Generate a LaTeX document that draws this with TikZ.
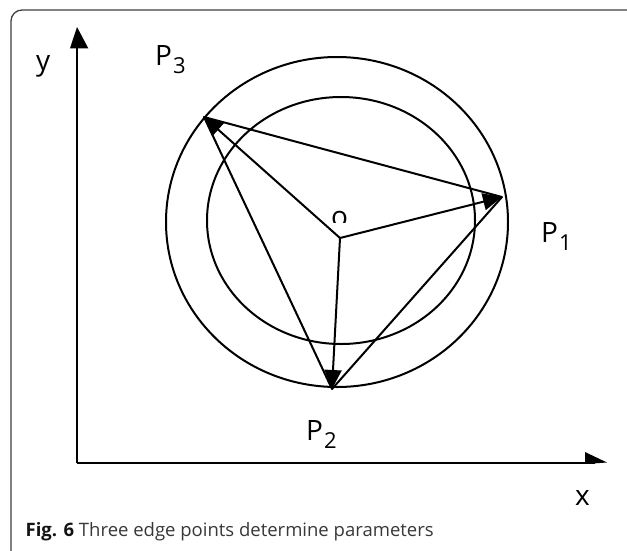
\documentclass[tikz,border=0pt]{standalone}
\usepackage{fontspec}
\setmainfont{Open Sans}
\usetikzlibrary{arrows.meta}
\newcommand\Psub[1]{P\kern1pt\raisebox{-8.5pt}{\fontsize{22}{22}\selectfont #1}}
\tikzset{
  borderframe/.style={draw=black!75, line width=1.3pt, rounded corners=11pt},
  axisline/.style={line width=2pt, draw=black},
  axishead/.style={fill=black, draw=none},
  circline/.style={line width=2pt, draw=black},
  radarrow/.style={line width=2pt, draw=black, -{Triangle[length=19pt,width=17pt]}},
  triedge/.style={line width=2pt, draw=black, line join=round},
  lab/.style={inner sep=0pt, anchor=base west, font=\fontsize{28}{28}\selectfont},
  captext/.style={inner sep=0pt, anchor=base west, font=\fontsize{18.5}{19}\selectfont, text=black!78}
}
\begin{document}
\begin{tikzpicture}[x=1pt,y=-1pt]
\useasboundingbox (0,0) rectangle (627,550);
\clip (0,0) rectangle (627,550);
\fill[white] (0,0) rectangle (627,550);
% frame
\draw[borderframe] (11,10) rectangle (660,585);
% axes
\coordinate (orig) at (77,463);
\coordinate (ytip) at (77,27);
\coordinate (xtip) at (607,462.5);
\draw[axisline] (orig) -- (77,40);
\draw[axisline] (orig) -- (595,463);
\fill[axishead] (ytip) -- (88.3,48.3) -- (70,48.3) -- cycle;
\fill[axishead] (xtip) -- (585,464) -- (585,452) -- cycle;
% circles
\draw[circline] (337,222) ellipse [x radius=171, y radius=165];
\draw[circline] (341,220.5) ellipse [x radius=134, y radius=123.5];
% points
\coordinate (O) at (340,238);
\coordinate (P1) at (502,197);
\coordinate (P2) at (332,389);
\coordinate (P3) at (204,117);
\draw[triedge] (P1) -- (P2) -- (P3) -- cycle;
\draw[radarrow] (O) -- (P1);
\draw[radarrow] (O) -- (P2);
\draw[radarrow] (O) -- (P3);
% labels
\begin{scope}
\clip (320,200) rectangle (360,222.5);
\node[inner sep=0pt, anchor=base, font=\fontsize{28}{28}\selectfont] (olab) at (339.5,226.5) {o};
\end{scope}
\node[lab] (ylab) at (36,70) {y};
\node[lab] (xlab) at (575,505) {x};
\node[lab] (p3lab) at (155,65) {\Psub{3}};
\node[lab] (p1lab) at (541,242) {\Psub{1}};
\node[lab] (p2lab) at (306,440) {\Psub{2}};
% caption
\node[captext] (caption) at (25.5,536) {\textbf{\textcolor{black!92}{Fig. 6}} Three edge points determine parameters};
\end{tikzpicture}
\end{document}
